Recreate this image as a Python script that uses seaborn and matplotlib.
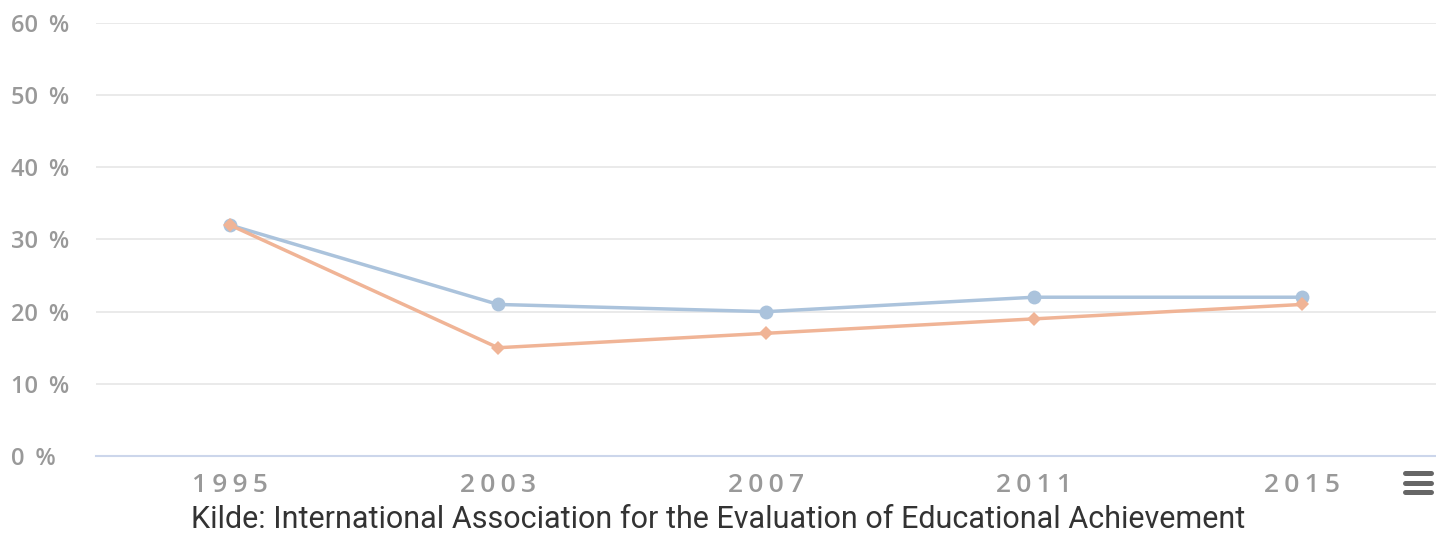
import pandas as pd
import matplotlib.pyplot as plt
import seaborn as sns
from matplotlib.lines import Line2D

years = ["1995", "2003", "2007", "2011", "2015"]
serie_a = [32, 21, 20, 22, 22]
serie_b = [32, 15, 17, 19, 21]
y_ticks = [0, 10, 20, 30, 40, 50, 60]

df = pd.DataFrame({
    "year": years * 2,
    "value": serie_a + serie_b,
    "serie": ["A"] * len(years) + ["B"] * len(years),
})

sns.set_style("white")
plt.rcParams['font.family'] = ['Open Sans', 'DejaVu Sans']

fig = plt.figure(figsize=(14.36, 5.35), dpi=100)
ax = fig.add_axes([0.0669, 0.1477, 0.9331, 0.8093])

sns.lineplot(data=df, x="year", y="value", hue="serie", style="serie",
             palette={"A": "#abc3dc", "B": "#f0b496"},
             markers={"A": "o", "B": "D"}, dashes=False,
             markersize=10, markeredgewidth=0, linewidth=2.5,
             legend=False, ax=ax)
for ln in ax.lines:
    if ln.get_marker() == "D":
        ln.set_markersize(7)

ax.set_xlim(-0.5, 4.5)
ax.set_ylim(0, 60)
ax.set_yticks(y_ticks)
# letter-spaced labels like the original
ax.set_yticklabels([f"{v}\u2009 %" for v in y_ticks])
ax.set_xticks(range(len(years)))
ax.set_xticklabels(["\u2009".join(y) for y in years])
ax.set_xlabel("")
ax.set_ylabel("")
ax.grid(axis="y", color="#e6e6e6", linewidth=1.2)
ax.set_axisbelow(True)
for s in ["top", "right", "left"]:
    ax.spines[s].set_visible(False)
ax.spines["bottom"].set_color("#ccd6eb")
ax.spines["bottom"].set_linewidth(1.5)
ax.tick_params(axis="both", length=0, colors="#999999")
ax.tick_params(axis="x", pad=12, labelsize=19)
ax.tick_params(axis="y", pad=61, labelsize=17)
for lbl in ax.get_yticklabels():
    lbl.set_horizontalalignment("left")
    lbl.set_fontweight("semibold")
for lbl in ax.get_xticklabels():
    lbl.set_fontweight("semibold")

fig.text(0.5, 0.013, "Kilde: International Association for the Evaluation of Educational Achievement",
         ha="center", va="baseline", fontsize=22, color="#333333", family="Roboto")

# menu icon
for yy in [473, 482.5, 492]:
    fig.add_artist(Line2D([0.9785, 0.9965], [1 - yy / 535, 1 - yy / 535], color="#666666",
                          linewidth=3.6, solid_capstyle="round"))

fig.savefig("out.png", dpi=100)
